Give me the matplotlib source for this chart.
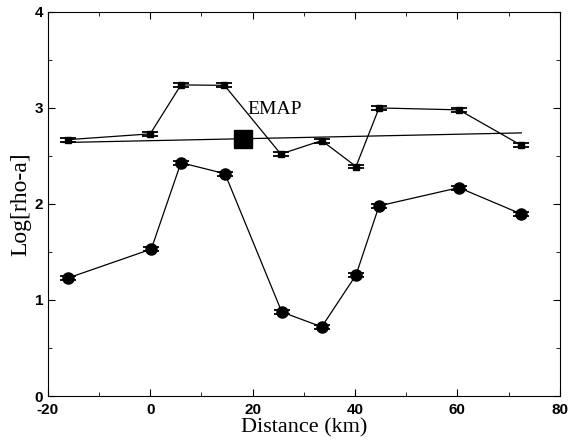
import numpy as np
import matplotlib
matplotlib.use('Agg')
import matplotlib.pyplot as plt
from matplotlib.ticker import MultipleLocator

plt.rcParams['axes.unicode_minus'] = False

# Data
dist_sq = [-16, 0, 6, 14.5, 25.5, 33.5, 40.2, 44.7, 60.3, 72.5]
rho_sq = [2.67, 2.73, 3.24, 3.235, 2.52, 2.66, 2.39, 3.0, 2.98, 2.61]

dist_ci = [-16, 0.2, 6, 14.6, 25.7, 33.5, 40.2, 44.7, 60.3, 72.5]
rho_ci = [1.23, 1.53, 2.43, 2.315, 0.875, 0.72, 1.26, 1.98, 2.17, 1.895]

err = 0.02

emap_x = [-17, 72.5]
emap_y = [2.64, 2.74]
emap_pt_x = [18.1]
emap_pt_y = [2.68]

fig, ax = plt.subplots(figsize=(5.7, 4.41), dpi=100)
fig.subplots_adjust(left=0.084, right=0.982, top=0.973, bottom=0.102)

# square series
ax.errorbar(dist_sq, rho_sq, yerr=err, fmt='s-', color='black', ms=5,
            lw=0.9, elinewidth=1, capsize=6, capthick=1.3)
# circle series
ax.errorbar(dist_ci, rho_ci, yerr=err, fmt='o-', color='black', ms=8,
            lw=0.9, elinewidth=1, capsize=6, capthick=1.3)

# EMAP line and point
ax.plot(emap_x, emap_y, color='black', lw=0.9)
ax.plot(emap_pt_x, emap_pt_y, 's', color='black', ms=13)
ax.text(19, 2.98, 'EMAP', family='Liberation Serif', fontsize=14, va='center')

ax.set_xlim(-20, 80)
ax.set_ylim(0, 4)
ax.xaxis.set_major_locator(MultipleLocator(20))
ax.xaxis.set_minor_locator(MultipleLocator(10))
ax.yaxis.set_major_locator(MultipleLocator(1))
ax.yaxis.set_minor_locator(MultipleLocator(0.5))
ax.tick_params(which='both', direction='in', top=True, right=True)
ax.tick_params(which='major', length=5, labelsize=11)
ax.tick_params(axis='x', which='major', pad=5)
ax.tick_params(which='minor', length=3)
for lab in ax.get_xticklabels() + ax.get_yticklabels():
    lab.set_family('Liberation Sans')
    lab.set_fontweight('bold')

ax.set_xlabel('Distance (km)', family='Liberation Serif', fontsize=16, labelpad=1)
ax.set_ylabel('Log[rho-a]', family='Liberation Serif', fontsize=17, labelpad=2)

plt.savefig('out.png')
